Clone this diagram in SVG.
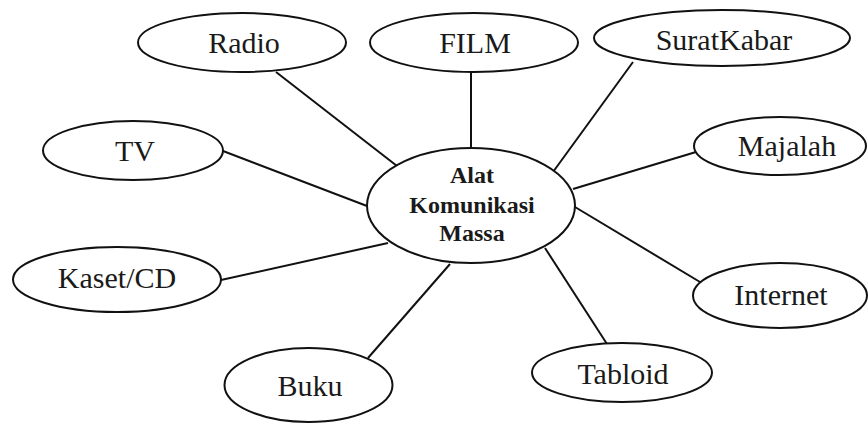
<svg xmlns="http://www.w3.org/2000/svg" width="868" height="423" viewBox="0 0 868 423">
<style>
  .node ellipse { fill: #ffffff; stroke: #111111; stroke-width: 2; }
  .node text { font-family: 'Liberation Serif', 'Times New Roman', serif; font-size: 30px; fill: #1a1a1a; text-anchor: middle; }
  #center text { font-weight: bold; font-size: 24px; }
  #connectors line { stroke: #111111; stroke-width: 2; }
</style>
<rect width="868" height="423" fill="#ffffff"/>
<g id="connectors">
  <line x1="276" y1="72" x2="397" y2="166"/>
  <line x1="471" y1="72" x2="471" y2="148"/>
  <line x1="633" y1="62" x2="553" y2="172"/>
  <line x1="696" y1="152" x2="573" y2="189"/>
  <line x1="700" y1="282" x2="575" y2="207"/>
  <line x1="607" y1="344" x2="545" y2="248"/>
  <line x1="368" y1="358" x2="450" y2="264"/>
  <line x1="221" y1="280" x2="388" y2="243"/>
  <line x1="223" y1="151" x2="367" y2="206"/>
</g>
<g id="center" class="node">
  <ellipse cx="471" cy="205.5" rx="104" ry="57.5"/>
  <text x="472" y="183">Alat</text>
  <text x="472" y="213">Komunikasi</text>
  <text x="472" y="241">Massa</text>
</g>
<g id="radio" class="node">
  <ellipse cx="242" cy="42.5" rx="104" ry="29.5"/>
  <text x="244" y="53">Radio</text>
</g>
<g id="film" class="node">
  <ellipse cx="474" cy="42.5" rx="104" ry="29.5"/>
  <text x="475" y="53">FILM</text>
</g>
<g id="suratkabar" class="node">
  <ellipse cx="722" cy="38" rx="128" ry="28"/>
  <text x="724" y="50">SuratKabar</text>
</g>
<g id="majalah" class="node">
  <ellipse cx="780" cy="146" rx="86" ry="29"/>
  <text x="787" y="156">Majalah</text>
</g>
<g id="tv" class="node">
  <ellipse cx="133" cy="150.5" rx="90" ry="29.5"/>
  <text x="135" y="161">TV</text>
</g>
<g id="kaset" class="node">
  <ellipse cx="117" cy="279.5" rx="104" ry="32.5"/>
  <text x="117" y="288">Kaset/CD</text>
</g>
<g id="buku" class="node">
  <ellipse cx="308.5" cy="385" rx="84" ry="37"/>
  <text x="310" y="396">Buku</text>
</g>
<g id="tabloid" class="node">
  <ellipse cx="622" cy="372.5" rx="90" ry="29.5"/>
  <text x="623" y="384">Tabloid</text>
</g>
<g id="internet" class="node">
  <ellipse cx="780" cy="295.5" rx="87" ry="32.5"/>
  <text x="781" y="305">Internet</text>
</g>
</svg>
